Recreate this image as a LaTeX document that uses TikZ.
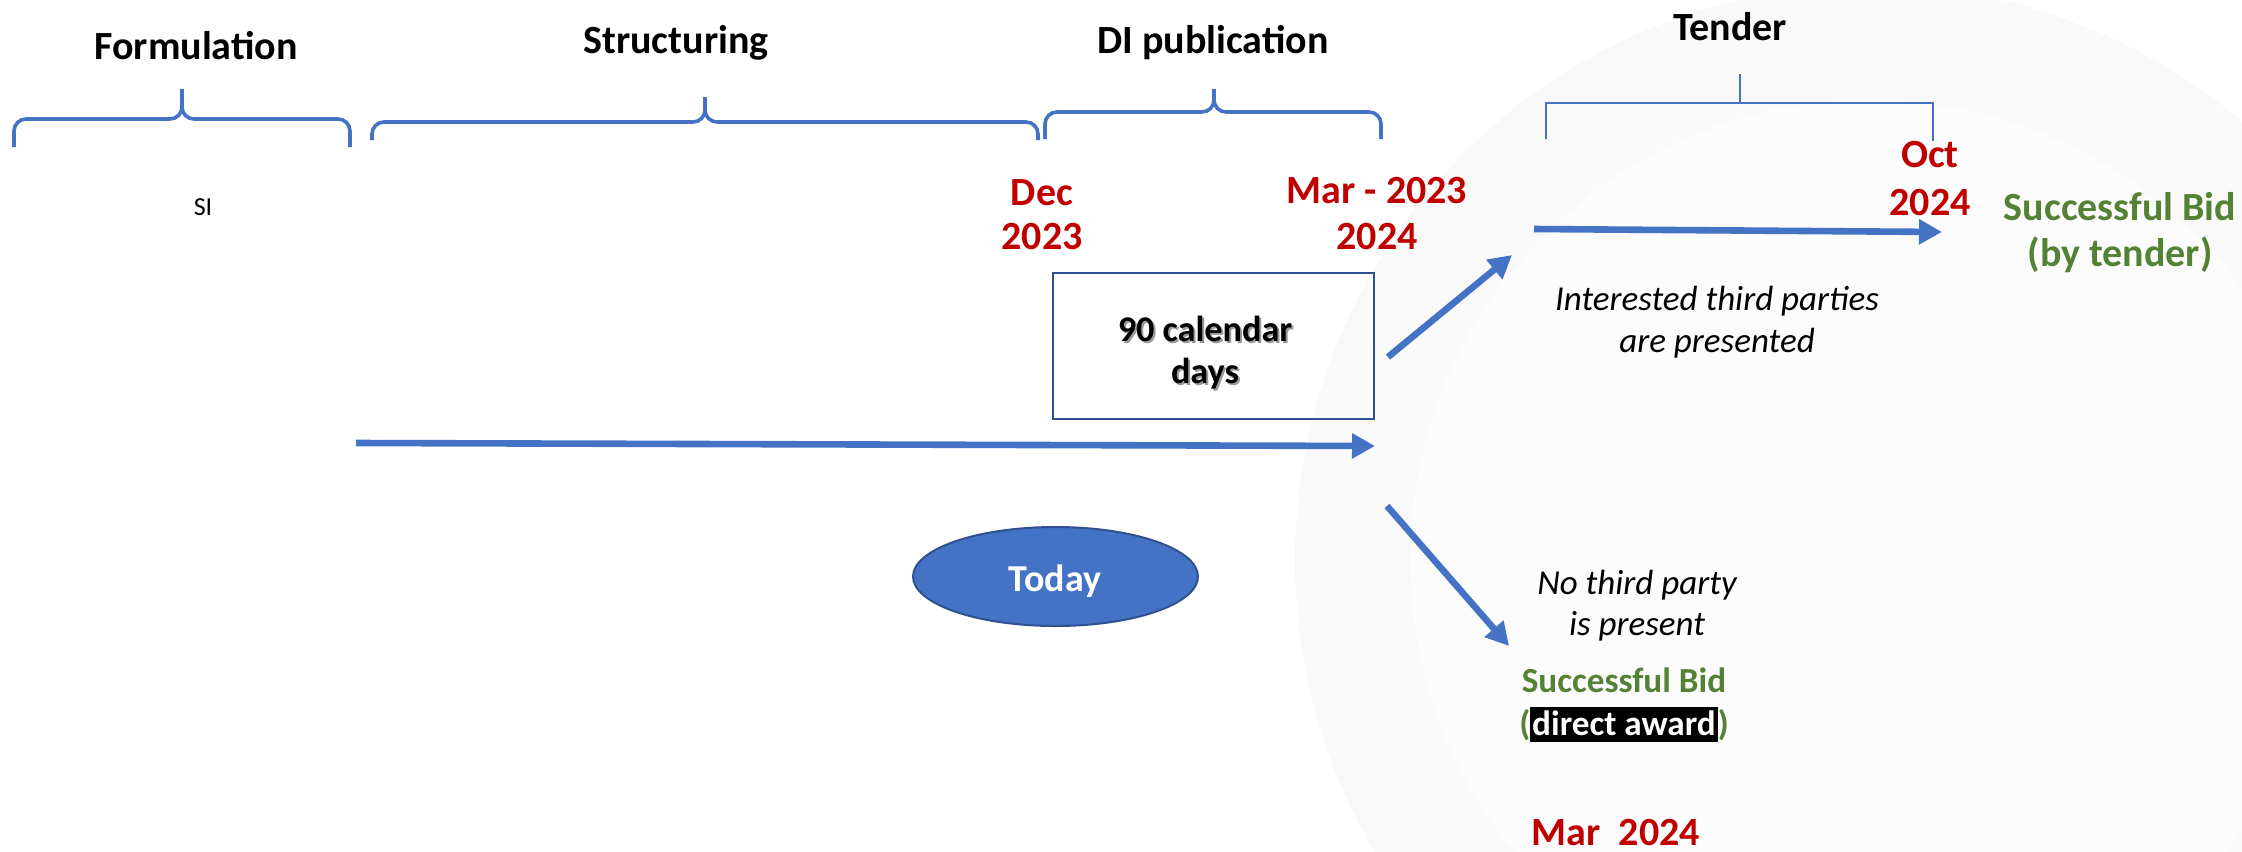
\documentclass[tikz,border=0pt]{standalone}
\usepackage{fontspec}
\setmainfont{Carlito}
\usetikzlibrary{arrows.meta,shapes.geometric}
\definecolor{pblue}{HTML}{4472C4}
\definecolor{pdark}{HTML}{2F528F}
\definecolor{pred}{HTML}{C00000}
\definecolor{pgreen}{HTML}{548235}
\definecolor{wmouter}{HTML}{F9F9F9}
\definecolor{wminner}{HTML}{FCFCFC}
\begin{document}
\begin{tikzpicture}[x=0.5pt,y=-0.5pt,
  phase/.style={font=\fontsize{20}{24}\selectfont\bfseries, anchor=base},
  datelbl/.style={font=\fontsize{20}{23}\selectfont\bfseries, text=pred, align=center, anchor=base},
  bracepath/.style={draw=pblue, line width=1.8pt, rounded corners=6pt},
  bigarrow/.style={draw=pblue, line width=3.3pt, -{Triangle[length=11.5pt,width=12pt]}},
  note/.style={font=\fontsize{17.5}{21}\selectfont\itshape, align=center, anchor=base},
  win/.style={font=\fontsize{20}{23}\selectfont\bfseries, text=pgreen, align=center, anchor=base}]
\useasboundingbox (0,0) rectangle (2242,851);
% faint watermark
\fill[wmouter] (1870,560) circle[radius=575];
\fill[wminner] (1870,560) circle[radius=460];

% phase titles
\node[phase] (formulation) at (196,59) {Formulation};
\node[phase] (structuring) at (676,54) {Structuring};
\node[phase] (dipub) at (1213,54) {DI publication};
\node[phase] (tender) at (1730,40) {Tender};

% braces
\draw[bracepath] (14,147) -- (14,119) -- (182,119) -- (182,89);
\draw[bracepath] (350,147) -- (350,119) -- (182,119) -- (182,89);
\draw[bracepath] (372,140) -- (372,122) -- (705,122) -- (705,97);
\draw[bracepath] (1038,140) -- (1038,122) -- (705,122) -- (705,97);
\draw[bracepath] (1045,139) -- (1045,112) -- (1214,112) -- (1214,89);
\draw[bracepath] (1381,139) -- (1381,112) -- (1214,112) -- (1214,89);
\draw[pblue, line width=1pt] (1546,139) -- (1546,103) -- (1933,103) -- (1933,141);
\draw[pblue, line width=1pt] (1740,74) -- (1740,103);

% labels
\node[font=\fontsize{13}{15}\selectfont, anchor=base] (si) at (203,215) {SI};
\node[datelbl, font=\fontsize{20}{22}\selectfont\bfseries] (dec) at (1042,249) {Dec\\2023};
\node[datelbl] (mar23) at (1377,249) {Mar - 2023\\2024};
\node[datelbl, font=\fontsize{20}{24}\selectfont\bfseries] (oct) at (1930,215) {Oct\\2024};
\node[win] (bidtender) at (2120,266) {Successful Bid\\(by tender)};

% 90 days box
\node[draw=pdark, line width=1.2pt, minimum width=160.5pt, minimum height=73pt] (daysbox) at (1213.5,346) {};
\node[font=\fontsize{18.1}{21}\selectfont\bfseries, align=center, anchor=base, text=black!40] (daysshadow) at (1207,385) {90 calendar\\days};
\node[font=\fontsize{18.1}{21}\selectfont\bfseries, align=center, anchor=base] (daystext) at (1205,383) {90 calendar\\days};

% today
\node[ellipse, fill=pblue, draw=pdark, line width=1pt, minimum width=142.5pt, minimum height=49.5pt] (today) at (1055.5,576.5) {};
\node[font=\fontsize{19}{22}\selectfont\bfseries, text=white, anchor=base] (todaytext) at (1055,591) {Today};

% arrows
\coordinate (mainS) at (356,443);
\coordinate (mainE) at (1375,446);
\coordinate (upS) at (1388,357);
\coordinate (upE) at (1512,255);
\coordinate (topS) at (1534,229);
\coordinate (topE) at (1942,232);
\coordinate (downS) at (1387,506);
\coordinate (downE) at (1509,646);
\draw[bigarrow] (mainS) -- (mainE);
\draw[bigarrow] (upS) -- (upE);
\draw[bigarrow] (topS) -- (topE);
\draw[bigarrow] (downS) -- (downE);

% notes
\node[note] (interested) at (1717,352) {Interested third parties\\are presented};
\node[note, font=\fontsize{17.5}{20.5}\selectfont\itshape] (nothird) at (1637,635) {No third party\\is present};
\setlength{\fboxsep}{1pt}
\node[win, font=\fontsize{17.6}{21.5}\selectfont\bfseries] (biddirect) at (1624,735) {Successful Bid\\(\colorbox{black}{\color{white}\vphantom{(}direct award})};
\node[datelbl] (mar24) at (1616,845) {Mar~~2024};
\end{tikzpicture}
\end{document}
